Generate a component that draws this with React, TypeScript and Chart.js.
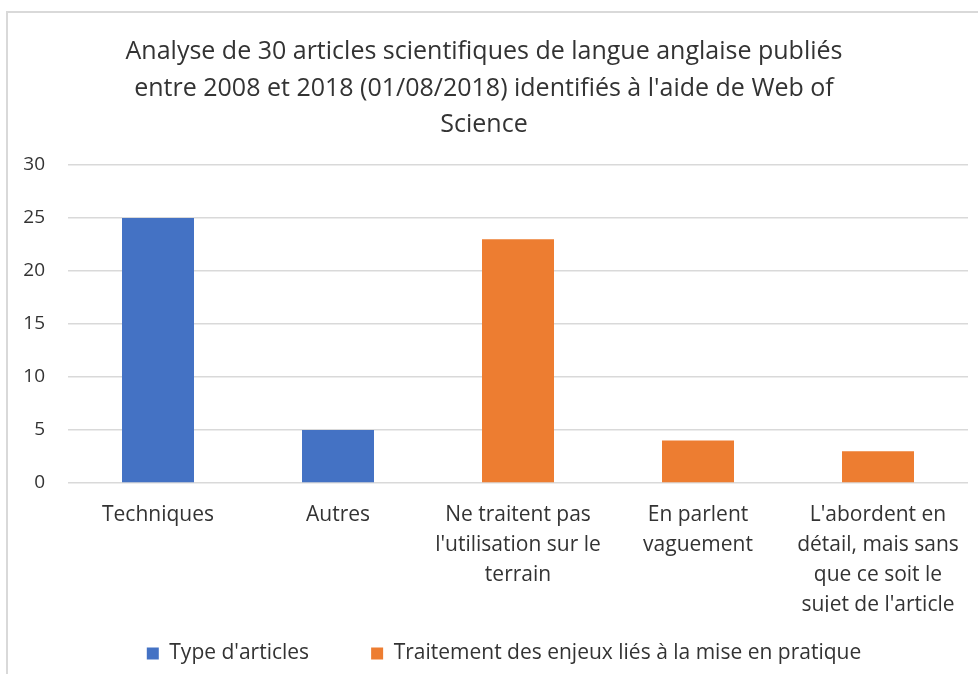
import React, { useEffect, useRef } from "react";
import { Chart, registerables } from "chart.js";

Chart.register(...registerables);

const titleLines = [
  "Analyse de 30 articles scientifiques de langue anglaise publiés",
  "entre 2008 et 2018 (01/08/2018) identifiés à l'aide de Web of",
  "Science",
];

const categories: string[][] = [
  ["Techniques"],
  ["Autres"],
  ["Ne traitent pas", "l'utilisation sur le", "terrain"],
  ["En parlent", "vaguement"],
  ["L'abordent en", "détail, mais sans", "que ce soit le", "sujet de l'article"],
];

const seriesNames = ["Type d'articles", "Traitement des enjeux liés à la mise en pratique"];
const typeArticles: (number | null)[] = [25, 5, null, null, null];
const traitementEnjeux: (number | null)[] = [null, null, 23, 4, 3];

const yMin = 0;
const yMax = 30;
const yStep = 5;

const TEXT = "#333333";
const FONT = "'Open Sans', 'Noto Sans', sans-serif";

const frame = {
  id: "frame",
  beforeDraw(chart: any) {
    const ctx = chart.ctx;
    ctx.save();
    ctx.fillStyle = "#ffffff";
    ctx.fillRect(0, 0, chart.width, chart.height);
    ctx.strokeStyle = "#d9d9d9";
    ctx.lineWidth = 2;
    ctx.strokeRect(7, 12, chart.width + 20, chart.height + 20);
    ctx.restore();
  },
};

// keep the legend inside the canvas and nudge it horizontally
const legendPlacer = {
  id: "legendPlacer",
  afterLayout(chart: any) {
    const lg = chart.legend;
    if (!lg) return;
    const h = lg.height;
    lg.top = chart.height - h;
    lg.bottom = chart.height;
    lg.left += 20;
    lg.right += 20;
  },
};

export default function App() {
  const ref = useRef<HTMLCanvasElement | null>(null);
  useEffect(() => {
    if (!ref.current) return;
    const chart = new Chart(ref.current, {
      type: "bar",
      data: {
        labels: categories,
        datasets: [
          {
            label: seriesNames[0],
            data: typeArticles,
            backgroundColor: "#4472C4",
            grouped: false,
            barPercentage: 0.4,
            categoryPercentage: 1,
          } as any,
          {
            label: seriesNames[1],
            data: traitementEnjeux,
            backgroundColor: "#ED7D31",
            grouped: false,
            barPercentage: 0.4,
            categoryPercentage: 1,
          } as any,
        ],
      },
      options: {
        animation: false,
        responsive: false,
        layout: { padding: { left: 0, right: 10, top: 34, bottom: -31 } },
        plugins: {
          title: {
            display: true,
            text: titleLines,
            color: TEXT,
            font: { family: FONT, size: 25, weight: "normal", lineHeight: 1.46 },
            padding: { top: 0, bottom: 21.5 },
          },
          legend: {
            position: "bottom",
            labels: {
              color: TEXT,
              font: { family: FONT, size: 21 },
              boxWidth: 12,
              boxHeight: 12,
              padding: 62,
            },
          },
          tooltip: { enabled: false },
        },
        scales: {
          x: {
            grid: { display: false },
            border: { display: false },
            ticks: {
              color: TEXT,
              font: { family: FONT, size: 21, lineHeight: 1.43 },
              maxRotation: 0,
              autoSkip: false,
              padding: 9,
            },
            afterFit: (s: any) => {
              s.height = 129;
            },
          },
          y: {
            min: yMin,
            max: yMax,
            ticks: {
              stepSize: yStep,
              color: TEXT,
              font: { family: FONT, size: 19 },
              padding: 23,
            },
            grid: { color: "#d9d9d9", lineWidth: 1.5, drawTicks: false },
            border: { display: false },
            afterFit: (s: any) => {
              s.width = 68;
            },
          },
        },
      },
      plugins: [frame, legendPlacer],
    });
    return () => chart.destroy();
  }, []);
  return (
    <div style={{ position: "fixed", left: 0, top: 0, width: 978, height: 674 }}>
      <canvas ref={ref} width={978} height={674} style={{ display: "block" }} />
    </div>
  );
}
